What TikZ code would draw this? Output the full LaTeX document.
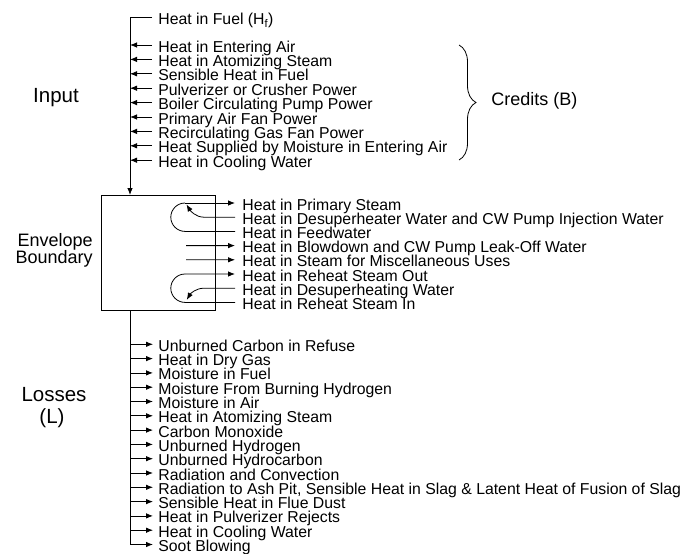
\documentclass[tikz,border=0pt]{standalone}
\usepackage{fontspec}
\setmainfont{Liberation Sans}
\usetikzlibrary{arrows.meta,decorations.pathreplacing}
\begin{document}
\begin{tikzpicture}[x=1pt,y=-1pt,line width=0.8pt,
  item/.style={anchor=base west,inner sep=0pt,font=\fontsize{15.8}{14}\selectfont},
  biglabel/.style={inner sep=0pt,font=\fontsize{20.5}{22}\selectfont},
  midlabel/.style={inner sep=0pt,font=\fontsize{18}{20}\selectfont},
  tip/.style={-{Latex[length=7pt,width=5.5pt]}}]
\useasboundingbox (0,0) rectangle (683,554);

% envelope box
\node[draw,inner sep=0pt,minimum width=114pt,minimum height=115pt,anchor=north west] (env) at (101,195) {};

% heat in fuel and input spine
\node[item] (fuel) at (158,24.5) {Heat in Fuel (H\textsubscript{f})};
\coordinate (fuelS) at (152,17.5);
\coordinate (spineTop) at (130,17.5);
\draw[tip] (fuelS) -- (spineTop) -- (env.north -| spineTop);

% input credits
\foreach \t [count=\i from 0] in {Heat in Entering Air,Heat in Atomizing Steam,Sensible Heat in Fuel,Pulverizer or Crusher Power,Boiler Circulating Pump Power,Primary Air Fan Power,Recirculating Gas Fan Power,Heat Supplied by Moisture in Entering Air,Heat in Cooling Water}{
  \pgfmathsetmacro\yy{45+14.4*\i}
  \node[item] (in\i) at (158,\yy+7) {\t};
  \coordinate (ins\i) at (152,\yy);
  \coordinate (ine\i) at (130,\yy);
  \draw[tip] (ins\i) -- (ine\i);
}

% brace and credits
\draw[decorate,decoration={brace,amplitude=17pt}] (459,45) -- (459,160);
\node[midlabel,anchor=west] (cred) at (491,101) {Credits (B)};

% left labels
\node[biglabel,anchor=base] (inp) at (56,102) {Input};
\node[midlabel,anchor=base east] (env1) at (93,246) {Envelope};
\node[midlabel,anchor=base east] (env2) at (93,263) {Boundary};
\node[biglabel,anchor=base] (los1) at (54,401) {Losses};
\node[biglabel,anchor=base] (los2) at (52,423) {(L)};

% right side outputs
\foreach \t [count=\i from 0] in {Heat in Primary Steam,Heat in Desuperheater Water and CW Pump Injection Water,Heat in Feedwater,Heat in Blowdown and CW Pump Leak-Off Water,Heat in Steam for Miscellaneous Uses,Heat in Reheat Steam Out,Heat in Desuperheating Water,Heat in Reheat Steam In}{
  \pgfmathsetmacro\yy{203+14.2*\i}
  \node[item] (out\i) at (242,\yy+7) {\t};
  \coordinate (oe\i) at (235,\yy);
}
% loop 1
\coordinate (l1a) at (185,203);
\coordinate (l1b) at (185,231.4);
\draw[tip] (l1a) -- (oe0);
\draw (oe2) -- (l1b) arc[start angle=270,end angle=90,radius=14.2pt];
\coordinate (d1) at (204,217.2);
\coordinate (d1e) at (186.5,204.5);
\draw[tip] (oe1) -- (d1) .. controls (196,217.2) and (190.5,211) .. (d1e);
% straight outputs
\coordinate (b1) at (186,245.6);
\coordinate (b2) at (186,259.8);
\draw[tip] (b1) -- (oe3);
\draw[tip] (b2) -- (oe4);
% loop 2
\coordinate (l2a) at (185,274);
\coordinate (l2b) at (185,302.4);
\draw[tip] (l2a) -- (oe5);
\draw (oe7) -- (l2b) arc[start angle=270,end angle=90,radius=14.2pt];
\coordinate (d2) at (204,288.2);
\coordinate (d2e) at (186.8,299.8);
\draw[tip] (oe6) -- (d2) .. controls (196,288.2) and (190.5,293.5) .. (d2e);

% losses
\coordinate (lossTop) at (130,310);
\foreach \t [count=\i from 0] in {Unburned Carbon in Refuse,Heat in Dry Gas,Moisture in Fuel,Moisture From Burning Hydrogen,Moisture in Air,Heat in Atomizing Steam,Carbon Monoxide,Unburned Hydrogen,Unburned Hydrocarbon,Radiation and Convection,{Radiation to Ash Pit, Sensible Heat in Slag \& Latent Heat of Fusion of Slag},Sensible Heat in Flue Dust,Heat in Pulverizer Rejects,Heat in Cooling Water,Soot Blowing}{
  \pgfmathsetmacro\yy{344.3+14.3*\i}
  \node[item] (loss\i) at (158,\yy+7) {\t};
  \coordinate (ls\i) at (130,\yy);
  \coordinate (le\i) at (153,\yy);
}
\draw[tip] (lossTop) -- (ls14) -- (le14);
\foreach \i in {0,...,13}{\draw[tip] (ls\i) -- (le\i);}
\end{tikzpicture}
\end{document}
